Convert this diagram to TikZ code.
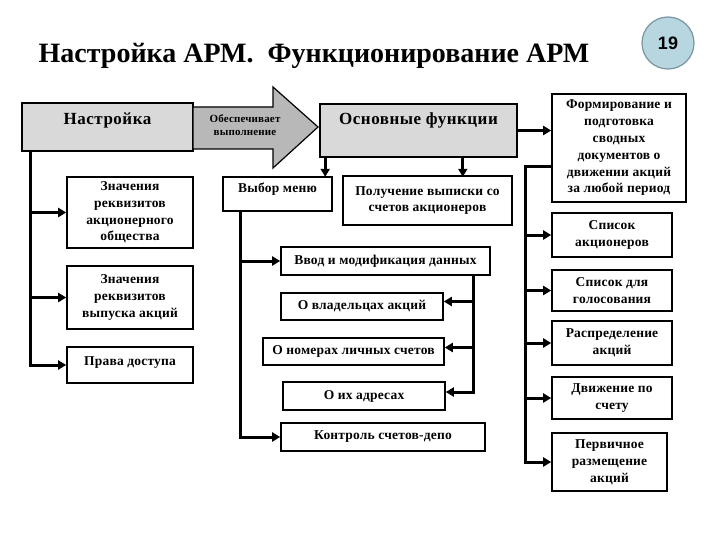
\documentclass[tikz,border=0pt]{standalone}
\usepackage{fontspec}
\setmainfont{Liberation Serif}
\newfontfamily\boxfont{Liberation Serif}[LetterSpace=1.5]
\newfontfamily\bigfont{Liberation Serif}[LetterSpace=3]
\newfontfamily\numfont{Liberation Sans}
\usetikzlibrary{positioning,arrows.meta}
\definecolor{circfill}{RGB}{184,214,224}
\definecolor{circline}{RGB}{120,148,160}

\begin{document}
\begin{tikzpicture}[x=1pt,y=-1pt,
font=\boxfont\bfseries\fontsize{13.5}{16.8}\selectfont,
box/.style={draw,line width=1.6pt,align=center,inner sep=2pt},
grbox/.style={box,fill=black!15,font=\bigfont\bfseries\fontsize{17}{19}\selectfont},
line/.style={line width=3pt},
arr/.style={line,-{Triangle[length=8pt,width=9pt]}}]
\useasboundingbox (0,0) rectangle (720,540);

\node[anchor=base,font=\rmfamily\bfseries\fontsize{28}{32}\selectfont] (title) at (314,63)
{Настройка АРМ.\ \ Функционирование АРМ};
\node[circle,draw=circline,fill=circfill,line width=1.2pt,minimum size=52pt,
font=\numfont\bfseries\fontsize{18}{20}\selectfont] (num) at (668,43) {19};

% setup column
\node[grbox,minimum width=171pt,inner ysep=5pt,text height=17pt,text depth=21pt] (nastr) at (107.5,127) {Настройка};
\node[box,minimum width=126pt,minimum height=71pt] (zakc) at (130,212.5) {Значения\\реквизитов\\акционерного\\общества};
\node[box,minimum width=126pt,minimum height=63pt] (zvyp) at (130,297.5) {Значения\\реквизитов\\выпуска акций};
\node[box,minimum width=126pt,inner ysep=4pt,text height=14pt,text depth=14pt] (prava) at (130,365) {Права доступа};

\draw[line width=1.2pt,fill=black!28] (193,107) -- (273,107) -- (273,87) -- (318,127)
-- (273,168) -- (273,149) -- (193,149) -- cycle;
\node[align=center,font=\boxfont\bfseries\fontsize{11}{13}\selectfont] (obesp) at (245,125) {Обеспечивает\\выполнение};

% main functions
\node[grbox,minimum width=197pt,inner ysep=5pt,text height=16pt,text depth=27pt] (osn) at (418.5,130.5) {Основные функции};
\node[box,minimum width=109pt,inner ysep=4pt,text height=12pt,text depth=14pt] (vybor) at (277.5,194) {Выбор меню};
\node[box,minimum width=169pt,minimum height=49pt] (polu) at (427.5,200.5) {Получение выписки со\\счетов акционеров};
\node[box,minimum width=209pt,minimum height=28pt] (vvod) at (385.5,261) {Ввод и модификация данных};
\node[box,minimum width=162pt,minimum height=27pt] (vlad) at (362,306.5) {О владельцах акций};
\node[box,minimum width=181pt,minimum height=27pt] (nomer) at (353.5,351.5) {О номерах личных счетов};
\node[box,minimum width=162pt,minimum height=28pt] (adres) at (364,396) {О их адресах};
\node[box,minimum width=204pt,minimum height=28pt] (kontr) at (383,437) {Контроль счетов-депо};

% reports column
\node[box,minimum width=134pt,minimum height=108pt] (form) at (619,148) {Формирование и\\подготовка\\сводных\\документов о\\движении акций\\за любой период};
\node[box,minimum width=120pt,minimum height=44pt] (spak) at (612,235) {Список\\акционеров};
\node[box,minimum width=120pt,minimum height=41pt] (spgol) at (612,290.5) {Список для\\голосования};
\node[box,minimum width=120pt,minimum height=44pt] (raspr) at (612,343) {Распределение\\акций};
\node[box,minimum width=120pt,minimum height=42pt] (dvizh) at (612,398) {Движение по\\счету};
\node[box,minimum width=115pt,minimum height=58pt] (perv) at (609.5,462) {Первичное\\размещение\\акций};

\draw[arr] ([xshift=9pt]nastr.south west) |- (zakc.west);
\draw[arr] ([xshift=9pt]nastr.south west) |- (zvyp.west);
\draw[arr] ([xshift=9pt]nastr.south west) |- (prava.west);

\draw[arr] ([xshift=6pt]osn.south west) -- ++(0,19);
\draw[arr] ([xshift=-55pt]osn.south east) -- ++(0,19);
\draw[arr] (osn.east) -- (osn.east -| form.west);

\draw[arr] ([xshift=18pt]vybor.south west) |- (vvod.west);
\draw[arr] ([xshift=18pt]vybor.south west) |- (kontr.west);

\draw[arr] ([xshift=-17pt]vvod.south east) |- ([yshift=5pt]vlad.east);
\draw[arr] ([xshift=-17pt]vvod.south east) |- ([yshift=4pt]nomer.east);
\draw[arr] ([xshift=-17pt]vvod.south east) |- ([yshift=4pt]adres.east);

\coordinate (rbar) at (525,167);
\draw[arr] (form.west |- rbar) -- (rbar) |- (perv.west);
\draw[arr] (rbar |- spak.west) -- (spak.west);
\draw[arr] (rbar |- spgol.west) -- (spgol.west);
\draw[arr] (rbar |- raspr.west) -- (raspr.west);
\draw[arr] (rbar |- dvizh.west) -- (dvizh.west);

\end{tikzpicture}
\end{document}
